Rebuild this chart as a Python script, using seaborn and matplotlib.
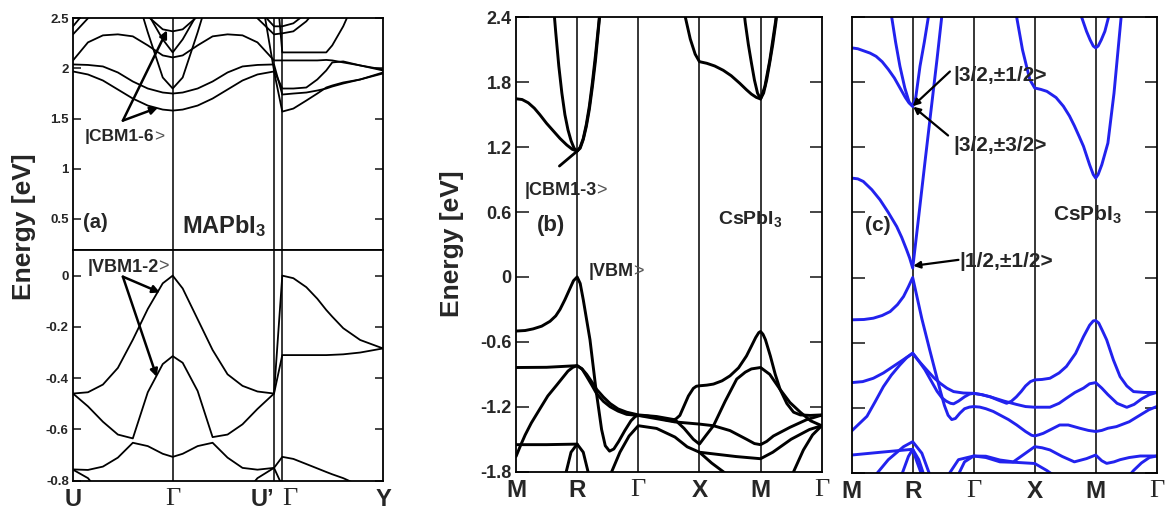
import matplotlib
matplotlib.use("Agg")
import matplotlib.pyplot as plt
import seaborn as sns

sns.set_style("white")
plt.rcParams['font.family'] = ['Liberation Sans', 'DejaVu Sans']
plt.rcParams['font.weight'] = 'bold'
plt.rcParams['mathtext.fontset'] = 'custom'
plt.rcParams['mathtext.rm'] = 'Liberation Sans:bold'
plt.rcParams['mathtext.it'] = 'Liberation Sans:bold'
plt.rcParams['mathtext.bf'] = 'Liberation Sans:bold'

# ---------------- data: panel (a) MAPbI3 ----------------
a_kpath = [0, 0.15, 0.3, 0.45, 0.6, 0.75, 0.9, 1.0, 1.1, 1.25, 1.4, 1.55, 1.7, 1.85, 2.016,
           2.099, 2.21, 2.34, 2.45, 2.54, 2.6, 2.71, 2.88, 3.109]
a_ticks = [0, 1.0, 2.016, 2.099, 3.109]
a_ticklabels = ["U", "Γ", "U’", "Γ", "Y"]

a_c1 = [1.97, 1.94, 1.88, 1.79, 1.70, 1.63, 1.59, 1.58, 1.59, 1.63, 1.70, 1.79, 1.88, 1.94, 1.97,
        1.57, 1.60, 1.68, 1.75, 1.81, 1.83, 1.86, 1.89, 1.95]
a_c2 = [2.04, 2.035, 2.02, 1.96, 1.87, 1.80, 1.76, 1.75, 1.76, 1.80, 1.87, 1.96, 2.02, 2.035, 2.04,
        1.74, 1.75, 1.76, 1.78, 1.80, 1.82, 1.85, 1.89, 1.96]
a_c3 = [2.98, 2.95, 2.9, 2.9, 2.85, 2.36, 1.91, 1.80, 1.91, 2.36, 2.85, 2.9, 2.9, 2.95, 1.98,
        1.80, 1.80, 1.81, 1.89, 1.98, 2.06, 2.07, 2.03, 1.98]
a_c4 = [2.08, 2.26, 2.33, 2.34, 2.32, 2.23, 2.13, 2.11, 2.13, 2.23, 2.32, 2.34, 2.33, 2.26, 2.08,
        2.08, 2.08, 2.08, 2.08, 2.085, 2.08, 2.06, 2.03, 1.99]
a_c5 = [3.1, 3.0, 2.95, 2.9, 2.8, 2.55, 2.29, 2.16, 2.29, 2.55, 2.8, 2.9, 2.95, 3.0, 3.1,
        2.16, 2.16, 2.16, 2.16, 2.16, 2.23, 2.42, 2.8, 2.95]
a_c6 = [2.34, 2.5, 2.62, 2.66, 2.65, 2.52, 2.39, 2.37, 2.39, 2.52, 2.65, 2.66, 2.62, 2.5, 2.34,
        2.35, 2.37, 2.47, 2.6, 2.7, 2.75, 2.8, 2.85, 2.9]
a_c7 = [2.42, 2.6, 2.7, 2.75, 2.8, 2.8, 2.75, 2.72, 2.75, 2.8, 2.8, 2.75, 2.7, 2.6, 2.42,
        2.42, 2.45, 2.55, 2.65, 2.75, 2.8, 2.85, 2.9, 2.95]
a_v1 = [-0.46, -0.455, -0.425, -0.36, -0.25, -0.13, -0.03, 0.0, -0.05, -0.17, -0.29, -0.385, -0.43, -0.452, -0.46,
        0.0, -0.01, -0.045, -0.09, -0.134, -0.16, -0.205, -0.251, -0.284]
a_v2 = [-0.46, -0.51, -0.57, -0.62, -0.635, -0.455, -0.345, -0.314, -0.34, -0.45, -0.63, -0.62, -0.58, -0.52, -0.46,
        -0.31, -0.31, -0.31, -0.31, -0.31, -0.309, -0.307, -0.30, -0.284]
a_v3 = [-0.756, -0.758, -0.745, -0.71, -0.652, -0.665, -0.695, -0.707, -0.695, -0.665, -0.652, -0.71, -0.75, -0.757, -0.75,
        -0.707, -0.715, -0.735, -0.752, -0.766, -0.775, -0.79, -0.82, -0.86]
a_v4 = [-0.757, -0.79, -0.86, -0.92, -0.95, -0.97, -0.98, -0.98, -0.98, -0.97, -0.95, -0.92, -0.86, -0.79, -0.75,
        -0.82, -0.88, -0.93, -0.96, -0.98, -0.99, -1.0, -1.0, -1.0]

# ---------------- data: panel (b) CsPbI3 (no SOC) ----------------
bc_ticks = [0, 1, 2, 3, 4, 5]
bc_ticklabels = ["M", "R", "Γ", "X", "M", "Γ"]

b_c1_k = [0, 0.1, 0.2, 0.3, 0.39, 0.5, 0.61, 0.72, 0.83, 0.92, 1.0, 1.05, 1.1, 1.15, 1.2, 1.25, 1.3, 1.4, 1.5]
b_c1_e = [1.647, 1.64, 1.61, 1.56, 1.50, 1.42, 1.35, 1.28, 1.22, 1.18, 1.163, 1.20, 1.28, 1.41, 1.58, 1.80, 2.05, 2.6, 3.2]
b_c2_k = [0.5, 0.6, 0.65, 0.7, 0.75, 0.8, 0.85, 0.9, 0.95, 1.0, 1.05, 1.1, 1.15, 1.2, 1.25, 1.3, 1.4, 1.5]
b_c2_e = [3.3, 2.6, 2.26, 1.95, 1.70, 1.50, 1.36, 1.26, 1.19, 1.163, 1.19, 1.27, 1.39, 1.55, 1.76, 2.0, 2.6, 3.3]
b_c3_k = [2.6, 2.7, 2.77, 2.85, 2.93, 3.0, 3.12, 3.25, 3.39, 3.52, 3.66, 3.77, 3.85, 3.93, 4.0, 4.07, 4.15, 4.25, 4.35]
b_c3_e = [3.0, 2.65, 2.4, 2.2, 2.06, 1.99, 1.975, 1.95, 1.91, 1.86, 1.79, 1.73, 1.69, 1.66, 1.645, 1.76, 2.0, 2.38, 2.9]
b_c4_k = [3.6, 3.7, 3.75, 3.8, 3.85, 3.9, 3.95, 4.0, 4.05, 4.1, 4.15, 4.2, 4.25, 4.35]
b_c4_e = [3.2, 2.6, 2.35, 2.15, 1.98, 1.82, 1.70, 1.645, 1.70, 1.82, 1.98, 2.15, 2.35, 2.9]
b_v1_k = [0, 0.15, 0.28, 0.42, 0.556, 0.65, 0.72, 0.80, 0.88, 0.94, 1.0, 1.05, 1.1, 1.21, 1.31, 1.40, 1.46, 1.53,
          1.60, 1.68, 1.78, 1.88, 1.95, 2.0,
          2.15, 2.3, 2.45, 2.55, 2.62, 2.68, 2.75, 2.82, 2.9, 2.95, 3.0, 3.12, 3.23, 3.37, 3.5, 3.64, 3.77, 3.85,
          3.92, 3.97, 4.0, 4.04, 4.08, 4.16, 4.24, 4.32, 4.43, 4.54, 4.65, 4.81, 5.0]
b_v1_e = [-0.50, -0.495, -0.48, -0.455, -0.41, -0.36, -0.30, -0.21, -0.11, -0.035, 0.0, -0.06, -0.21, -0.58, -1.05,
          -1.41, -1.56, -1.61, -1.59, -1.52, -1.42, -1.33, -1.29, -1.28,
          -1.285, -1.30, -1.32, -1.33, -1.31, -1.28, -1.19, -1.10, -1.03, -1.01, -1.006, -1.0, -0.99, -0.96, -0.914,
          -0.84, -0.73, -0.64, -0.56, -0.515, -0.504, -0.53, -0.58, -0.73, -0.90, -1.04, -1.17, -1.25, -1.275,
          -1.28, -1.275]
b_v2_k = [0, 0.5, 1.0, 1.08, 1.156, 1.24, 1.32, 1.43, 1.54, 1.67, 1.81, 2.0, 2.3, 2.6, 3.0, 3.23, 3.5, 3.77, 3.9,
          4.0, 4.1, 4.21, 4.48, 4.75, 5.0]
b_v2_e = [-0.837, -0.835, -0.82, -0.85, -0.92, -1.0, -1.08, -1.15, -1.20, -1.24, -1.27, -1.28, -1.31, -1.34, -1.36,
          -1.375, -1.42, -1.50, -1.54, -1.55, -1.52, -1.47, -1.39, -1.32, -1.277]
b_v3_k = [0, 0.08, 0.15, 0.25, 0.39, 0.52, 0.665, 0.85, 0.93, 1.0, 1.08, 1.156, 1.24, 1.32, 1.43, 1.54, 1.67,
          1.81, 2.0, 2.3, 2.6, 2.75, 2.9, 3.0, 3.1, 3.23, 3.42, 3.61, 3.75, 3.85, 4.0, 4.15, 4.32, 4.48, 4.65,
          4.82, 5.0]
b_v3_e = [-1.66, -1.55, -1.46, -1.35, -1.22, -1.10, -1.00, -0.87, -0.835, -0.82, -0.85, -0.90, -0.97, -1.04,
          -1.11, -1.17, -1.22, -1.25, -1.275, -1.29, -1.32, -1.40, -1.50, -1.545, -1.47, -1.375, -1.15, -0.944,
          -0.88, -0.85, -0.837, -0.90, -1.04, -1.16, -1.25, -1.33, -1.375]
b_v4_k = [0, 0.5, 1.0, 1.1, 1.2]
b_v4_e = [-1.55, -1.55, -1.545, -1.62, -1.85]
b_v5_k = [0.8, 0.9, 1.0]
b_v5_e = [-1.85, -1.62, -1.545]
b_v6_k = [1.5, 1.565, 1.7, 1.85, 2.0, 2.3, 2.6, 2.8, 3.0, 3.3, 3.6, 4.0, 4.2, 4.5, 4.8, 5.0]
b_v6_e = [-1.9, -1.8, -1.62, -1.47, -1.375, -1.40, -1.48, -1.57, -1.62, -1.64, -1.66, -1.68, -1.62, -1.50, -1.41, -1.375]
b_v7_k = [3.0, 3.2, 3.39, 3.5]
b_v7_e = [-1.62, -1.72, -1.80, -1.85]
b_v8_k = [4.45, 4.54, 4.7, 4.85, 5.0]
b_v8_e = [-1.9, -1.8, -1.6, -1.46, -1.375]

# ---------------- data: panel (c) CsPbI3 (SOC) ----------------
c_c1_k = [0, 0.1, 0.2, 0.3, 0.4, 0.5, 0.6, 0.7, 0.8, 0.88, 0.94, 1.0]
c_c1_e = [2.118, 2.11, 2.09, 2.07, 2.04, 1.99, 1.92, 1.84, 1.74, 1.66, 1.61, 1.579]
c_c2_k = [0.55, 0.656, 0.72, 0.79, 0.87, 0.94, 1.0, 1.05, 1.12, 1.19, 1.256, 1.33]
c_c2_e = [3.0, 2.4, 2.17, 1.95, 1.75, 1.62, 1.579, 1.66, 1.95, 2.17, 2.4, 2.75]
c_c3_k = [0, 0.1, 0.19, 0.33, 0.464, 0.6, 0.738, 0.82, 0.9, 0.95, 1.0, 1.1, 1.2, 1.3, 1.4, 1.475, 1.55]
c_c3_e = [0.917, 0.91, 0.886, 0.81, 0.717, 0.60, 0.47, 0.37, 0.256, 0.18, 0.087, 0.57, 1.06, 1.54, 2.02, 2.4, 2.77]
c_c4_k = [2.6, 2.705, 2.8, 2.92, 3.0, 3.1, 3.2, 3.35, 3.47, 3.57, 3.65, 3.73, 3.8, 3.9, 3.96, 4.0, 4.04, 4.1,
          4.2, 4.3, 4.4, 4.45]
c_c4_e = [2.95, 2.4, 2.1, 1.825, 1.748, 1.735, 1.717, 1.66, 1.58, 1.49, 1.40, 1.30, 1.21, 1.04, 0.95, 0.917,
          0.95, 1.04, 1.24, 1.70, 2.3, 2.6]
c_c5_k = [3.7, 3.77, 3.85, 3.91, 3.96, 4.0, 4.04, 4.09, 4.15, 4.21, 4.28]
c_c5_e = [2.6, 2.4, 2.27, 2.19, 2.135, 2.118, 2.135, 2.19, 2.27, 2.4, 2.6]
c_v1_k = [0, 0.2, 0.355, 0.5, 0.63, 0.75, 0.85, 0.93, 1.0, 1.15, 1.28, 1.45, 1.52, 1.58, 1.64, 1.7, 1.775, 1.85,
          1.93, 2.0, 2.1, 2.2, 2.32, 2.43, 2.57, 2.705, 2.85, 2.95, 3.0, 3.07, 3.14, 3.27, 3.41, 3.55, 3.74,
          3.88, 4.0, 4.1, 4.2, 4.34, 4.55, 4.73, 4.87, 5.0]
c_v1_e = [-0.39, -0.387, -0.375, -0.35, -0.314, -0.25, -0.175, -0.085, 0.0, -0.38, -0.67, -1.04, -1.18, -1.27,
          -1.31, -1.30, -1.25, -1.21, -1.195, -1.19, -1.195, -1.21, -1.235, -1.268, -1.31, -1.36, -1.42, -1.455,
          -1.461, -1.45, -1.437, -1.40, -1.36, -1.36, -1.39, -1.41, -1.42, -1.41, -1.39, -1.375, -1.33, -1.268,
          -1.22, -1.19]
c_v2_k = [0, 0.18, 0.355, 0.52, 0.68, 0.84, 1.0, 1.1, 1.23, 1.34, 1.45, 1.56, 1.67, 1.83, 2.0, 2.13, 2.27, 2.4,
          2.54, 2.62, 2.7, 2.78, 2.85, 2.93, 3.0, 3.12, 3.25, 3.4, 3.52, 3.67, 3.8, 3.9, 3.96, 4.0, 4.05, 4.11,
          4.18, 4.29, 4.4, 4.51, 4.62, 4.8, 5.0]
c_v2_e = [-0.969, -0.96, -0.929, -0.88, -0.82, -0.76, -0.698, -0.77, -0.852, -0.92, -0.975, -1.02, -1.052,
          -1.065, -1.068, -1.08, -1.10, -1.13, -1.16, -1.14, -1.10, -1.05, -1.0, -0.96, -0.944, -0.94, -0.929,
          -0.88, -0.82, -0.70, -0.545, -0.44, -0.40, -0.397, -0.42, -0.49, -0.575, -0.76, -0.914, -1.0, -1.052,
          -1.06, -1.06]
c_v3_k = [0, 0.12, 0.25, 0.38, 0.52, 0.65, 0.79, 0.9, 1.0, 1.1, 1.2, 1.3, 1.4, 1.48, 1.55, 1.62, 1.67, 1.75,
          1.85, 1.93, 2.0, 2.13, 2.27, 2.5, 2.7, 2.85, 3.0, 3.25, 3.4, 3.52, 3.66, 3.8, 3.9, 4.0, 4.1, 4.2,
          4.35, 4.51, 4.63, 4.75, 4.88, 5.0]
c_v3_e = [-1.415, -1.35, -1.28, -1.15, -1.006, -0.90, -0.806, -0.74, -0.698, -0.77, -0.85, -0.95, -1.05, -1.11,
          -1.14, -1.16, -1.165, -1.14, -1.10, -1.075, -1.068, -1.08, -1.10, -1.14, -1.17, -1.19, -1.196, -1.196,
          -1.16, -1.113, -1.06, -1.02, -0.98, -0.969, -1.02, -1.08, -1.16, -1.197, -1.17, -1.12, -1.08, -1.06]
c_v4_k = [0, 0.5, 1.0, 1.1, 1.2]
c_v4_e = [-1.637, -1.61, -1.584, -1.68, -1.85]
c_v5_k = [0.35, 0.6, 0.85, 1.0, 1.15, 1.3]
c_v5_e = [-1.85, -1.68, -1.56, -1.514, -1.62, -1.85]
c_v6_k = [0.8, 0.93, 1.0, 1.07, 1.2]
c_v6_e = [-1.85, -1.65, -1.584, -1.70, -1.9]
c_v7_k = [1.55, 1.75, 2.0, 2.2, 2.43, 2.65, 2.85, 3.0, 3.12, 3.25, 3.45, 3.65, 3.85, 4.0, 4.1, 4.18, 4.3, 4.4,
          4.55, 4.73, 5.0]
c_v7_e = [-1.85, -1.68, -1.646, -1.648, -1.683, -1.70, -1.62, -1.56, -1.57, -1.59, -1.65, -1.70, -1.67, -1.637,
          -1.69, -1.714, -1.70, -1.68, -1.66, -1.646, -1.646]
c_v8_k = [1.72, 1.85, 2.0, 2.2, 2.43, 2.7, 3.0, 3.2, 3.4]
c_v8_e = [-1.85, -1.70, -1.646, -1.66, -1.70, -1.705, -1.715, -1.78, -1.86]
c_v9_k = [4.5, 4.62, 4.75, 4.88, 5.0]
c_v9_e = [-1.86, -1.78, -1.71, -1.66, -1.646]

bc_yticks = [-1.8, -1.2, -0.6, 0, 0.6, 1.2, 1.8, 2.4]
bc_yticklabels = ["-1.8", "-1.2", "-0.6", "0", "0.6", "1.2", "1.8", "2.4"]
a_up_yticks = [0.5, 1, 1.5, 2, 2.5]
a_up_yticklabels = ["0.5", "1", "1.5", "2", "2.5"]
a_lo_yticks = [-0.8, -0.6, -0.4, -0.2, 0]
a_lo_yticklabels = ["-0.8", "-0.6", "-0.4", "-0.2", "0"]

# ---------------- figure ----------------
W, H = 1167, 515
fig = plt.figure(figsize=(W / 100, H / 100), dpi=100)


def add_ax(l, t, r, b):
    return fig.add_axes([l / W, 1 - b / H, (r - l) / W, (b - t) / H])


axAu = add_ax(73, 18.3, 383, 250)
axAl = add_ax(73, 250, 383, 480.7)
axB = add_ax(516, 17.3, 821.7, 471.7)
axC = add_ax(851.7, 17.3, 1156.7, 472.7)

BLUE = "#2222ee"


def band(ax, k, e, color="black", lw=2.0):
    sns.lineplot(x=k, y=e, ax=ax, sort=False, estimator=None, color=color,
                 linewidth=lw, legend=False)


for e in [a_c1, a_c2, a_c3, a_c4, a_c5, a_c6, a_c7]:
    band(axAu, a_kpath, e, lw=1.3)
for e in [a_v1, a_v2, a_v3, a_v4]:
    band(axAl, a_kpath, e, lw=1.3)

for k, e in [(b_c1_k, b_c1_e), (b_c2_k, b_c2_e), (b_c3_k, b_c3_e), (b_c4_k, b_c4_e),
             (b_v1_k, b_v1_e), (b_v2_k, b_v2_e), (b_v3_k, b_v3_e), (b_v4_k, b_v4_e),
             (b_v5_k, b_v5_e), (b_v6_k, b_v6_e), (b_v7_k, b_v7_e), (b_v8_k, b_v8_e)]:
    band(axB, k, e, lw=2.1)

for k, e in [(c_c1_k, c_c1_e), (c_c2_k, c_c2_e), (c_c3_k, c_c3_e), (c_c4_k, c_c4_e), (c_c5_k, c_c5_e),
             (c_v1_k, c_v1_e), (c_v2_k, c_v2_e), (c_v3_k, c_v3_e), (c_v4_k, c_v4_e), (c_v5_k, c_v5_e),
             (c_v6_k, c_v6_e), (c_v7_k, c_v7_e), (c_v8_k, c_v8_e), (c_v9_k, c_v9_e)]:
    band(axC, k, e, color=BLUE, lw=2.1)

# high-symmetry lines
for ax in (axAu, axAl):
    for x in a_ticks[1:-1]:
        ax.axvline(x, color="black", lw=1.1, zorder=0)
for ax in (axB, axC):
    for x in bc_ticks[1:-1]:
        ax.axvline(x, color="black", lw=1.1, zorder=0)

# limits, ticks
axAu.set_xlim(0, 3.109); axAl.set_xlim(0, 3.109)
axAu.set_ylim(0.19, 2.5); axAl.set_ylim(-0.8, 0.1)
axB.set_xlim(0, 5); axC.set_xlim(0, 5)
axB.set_ylim(-1.8, 2.4); axC.set_ylim(-1.8, 2.4)

for ax in (axAu, axAl, axB, axC):
    for s in ax.spines.values():
        s.set_linewidth(1.3); s.set_color("black")
    ax.set_xlabel(""); ax.set_ylabel("")
    ax.tick_params(axis="y", direction="in", left=True, right=True, width=1.2)
    ax.tick_params(axis="x", length=0)

axAu.set_yticks(a_up_yticks, a_up_yticklabels, fontsize=9.5, fontweight="bold")
axAl.set_yticks(a_lo_yticks, a_lo_yticklabels, fontsize=9.5, fontweight="bold")
axAu.tick_params(axis="y", length=6, pad=3)
axAl.tick_params(axis="y", length=6, pad=3)
axAu.set_xticks([])
axAl.set_xticks(a_ticks, a_ticklabels, fontsize=17, fontweight="bold")
axAl.tick_params(axis="x", pad=5)

axB.set_yticks(bc_yticks, bc_yticklabels, fontsize=13, fontweight="bold")
axC.set_yticks(bc_yticks, [""] * len(bc_yticks))
for ax in (axB, axC):
    ax.tick_params(axis="y", length=9, pad=3)
    ax.set_xticks(bc_ticks, bc_ticklabels, fontsize=17.5, fontweight="bold")
    ax.tick_params(axis="x", pad=5)

for ax in (axAl, axB, axC):
    for lab in ax.get_xticklabels():
        if lab.get_text() == "Γ":
            lab.set_fontfamily("Liberation Serif")
            lab.set_fontweight("normal")
            lab.set_fontsize(19)
labs = axAl.get_xticklabels()
labs[2].set_ha("right")
labs[3].set_ha("left")

# y labels
fig.text(24 / W, 1 - 227 / H, "Energy [eV]", rotation=90, ha="center", va="center",
         fontsize=19, fontweight="bold")
fig.text(452 / W, 1 - 244 / H, "Energy [eV]", rotation=90, ha="center", va="center",
         fontsize=19, fontweight="bold")


def ket(ax, x, y, body, size):
    t = ax.text(x, y, body, fontsize=size, fontweight="bold", ha="left", va="baseline")
    ax.annotate(">", xy=(1, 0), xycoords=t, xytext=(-0.6, 0), textcoords="offset points",
                fontsize=size, fontweight="normal", color="#555555", ha="left", va="bottom")


# panel (a) texts
axAu.text(0.097, 0.407, "(a)", fontsize=14.5, fontweight="bold", va="baseline")
axAu.text(1.09, 0.363, r"MAPbI$_{3}$", fontsize=17, fontweight="bold", va="baseline")
ket(axAu, 0.12, 1.273, "|CBM1-6", 12.5)
ket(axAl, 0.143, 0.0156, "|VBM1-2", 13)
arr = dict(arrowstyle="-|>", color="black", lw=1.8, mutation_scale=11, shrinkA=0, shrinkB=0)
axAu.annotate("", xy=(0.943, 2.38), xytext=(0.50, 1.48), arrowprops=arr)
axAu.annotate("", xy=(0.853, 1.61), xytext=(0.50, 1.48), arrowprops=arr)
axAl.annotate("", xy=(0.873, -0.066), xytext=(0.50, -0.004), arrowprops=arr)
axAl.annotate("", xy=(0.84, -0.395), xytext=(0.50, -0.004), arrowprops=arr)

# panel (b) texts
axB.text(0.338, 0.425, "(b)", fontsize=16, fontweight="bold", va="baseline")
axB.text(3.31, 0.486, r"CsPbI$_{3}$", fontsize=14, fontweight="bold", va="baseline")
ket(axB, 0.147, 0.754, "|CBM1-3", 13)
ket(axB, 1.184, 0.009, "|VBM", 13)
axB.annotate("", xy=(1.0, 1.163), xytext=(0.71, 1.025),
             arrowprops=dict(arrowstyle="-", color="black", lw=2.0, shrinkA=0, shrinkB=0))

# panel (c) texts
axC.text(0.218, 0.425, "(c)", fontsize=15, fontweight="bold", va="baseline")
axC.text(3.305, 0.526, r"CsPbI$_{3}$", fontsize=15, fontweight="bold", va="baseline")
axC.text(1.666, 1.81, "|3/2,±1/2>", fontsize=15, fontweight="bold", va="baseline")
axC.text(1.666, 1.163, "|3/2,±3/2>", fontsize=15, fontweight="bold", va="baseline")
axC.text(1.764, 0.10, "|1/2,±1/2>", fontsize=15, fontweight="bold", va="baseline")
arr2 = dict(arrowstyle="-|>", color="black", lw=1.6, mutation_scale=10, shrinkA=0, shrinkB=0)
axC.annotate("", xy=(1.0, 1.58), xytext=(1.61, 1.90), arrowprops=arr2)
axC.annotate("", xy=(1.01, 1.575), xytext=(1.58, 1.31), arrowprops=arr2)
axC.annotate("", xy=(1.01, 0.108), xytext=(1.75, 0.163), arrowprops=arr2)

fig.savefig("out.png", dpi=100)
